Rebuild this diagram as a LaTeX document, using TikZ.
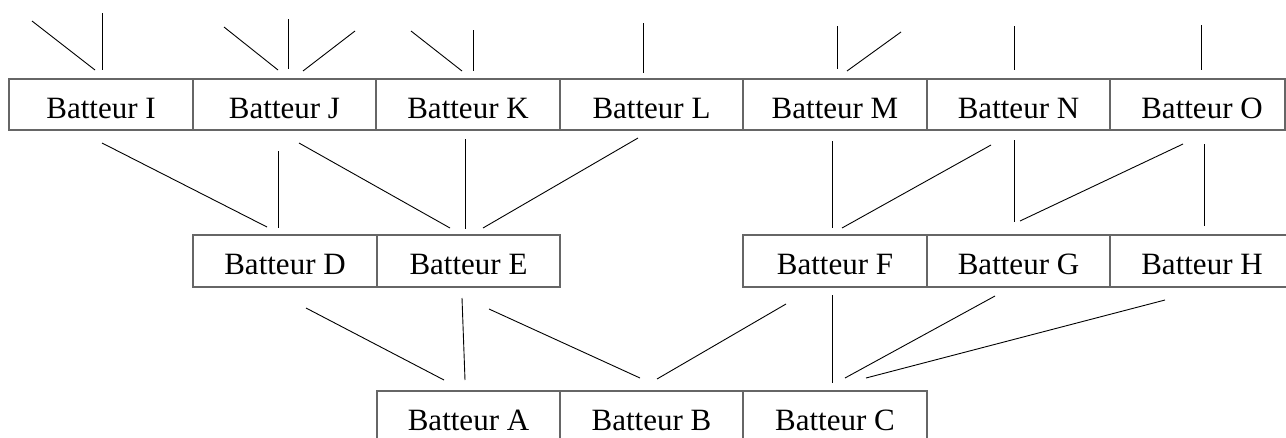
\documentclass[tikz,border=0pt]{standalone}
\usepackage{fontspec}
\setmainfont{Liberation Serif}
\usetikzlibrary{calc}
\begin{document}
\begin{tikzpicture}[x=1pt,y=-1pt,
  box/.style={draw=black!60, line width=1.3pt, rectangle, inner sep=0pt, outer sep=0pt,
    font=\fontsize{31pt}{37pt}\selectfont, text height=27pt, text depth=0pt},
  rowa/.style={box, minimum height=51pt},
  rowb/.style={box, minimum height=52pt},
  conn/.style={draw=black, line width=0.9pt}]
\useasboundingbox (0,0) rectangle (1286,437);
\clip (0,0) rectangle (1286,437);
% top row
\node[rowa, minimum width=184pt] (I) at (101,104.5) {Batteur I};
\node[rowa, minimum width=183pt] (J) at (284.5,104.5) {Batteur J};
\node[rowa, minimum width=184pt] (K) at (468,104.5) {Batteur K};
\node[rowa, minimum width=183pt] (L) at (651.5,104.5) {Batteur L};
\node[rowa, minimum width=184pt] (M) at (835,104.5) {Batteur M};
\node[rowa, minimum width=183pt] (N) at (1018.5,104.5) {Batteur N};
\node[rowa, minimum width=175pt] (O) at (1197.5,104.5) {\hspace*{9pt}Batteur O};
% middle row
\node[rowb, minimum width=184pt] (D) at (285,261) {Batteur D};
\node[rowb, minimum width=183pt] (E) at (468.5,261) {Batteur E};
\node[rowb, minimum width=184pt] (F) at (835,261) {Batteur F};
\node[rowb, minimum width=183pt] (G) at (1018.5,261) {Batteur G};
\node[rowb, minimum width=184pt] (H) at (1202,261) {Batteur H};
% bottom row
\node[rowb, minimum width=183pt] (A) at (468.5,417) {Batteur A};
\node[rowb, minimum width=183pt] (B) at (651.5,417) {Batteur B};
\node[rowb, minimum width=184pt] (C) at (835,417) {Batteur C};
% free ends above the top row
\coordinate (tI1) at (32,21);
\coordinate (tI2) at (102,13);
\coordinate (tJ1) at (224,27);
\coordinate (tJ2) at (288,19);
\coordinate (tJ3) at (355,31);
\coordinate (tK1) at (411,31);
\coordinate (tK2) at (473,30);
\coordinate (tL) at (643,23);
\coordinate (tM1) at (837,26);
\coordinate (tM2) at (901,32);
\coordinate (tN) at (1014,26);
\coordinate (tO) at (1201,25);
\draw[conn] (tI1) -- ($(I.north west)+(86,-9)$);
\draw[conn] (tI2) -- ($(I.north west)+(93,-9)$);
\draw[conn] (tJ1) -- ($(J.north west)+(85,-9)$);
\draw[conn] (tJ2) -- ($(J.north west)+(95,-10)$);
\draw[conn] (tJ3) -- ($(J.north west)+(110,-8)$);
\draw[conn] (tK1) -- ($(K.north west)+(86,-8)$);
\draw[conn] (tK2) -- ($(K.north west)+(97,-8)$);
\draw[conn] (tL) -- ($(L.north west)+(83,-6)$);
\draw[conn] (tM1) -- ($(M.north west)+(94,-10)$);
\draw[conn] (tM2) -- ($(M.north west)+(104,-8)$);
\draw[conn] (tN) -- ($(N.north west)+(87,-9)$);
\draw[conn] (tO) -- ($(O.north west)+(91,-9)$);
% top row to middle row
\draw[conn] ($(I.south west)+(93,13)$) -- ($(D.north west)+(74,-8)$);
\draw[conn] ($(J.south west)+(85,21)$) -- ($(D.north west)+(85,-7)$);
\draw[conn] ($(J.south west)+(106,13)$) -- ($(E.north west)+(73,-7)$);
\draw[conn] ($(K.south west)+(89,9)$) -- ($(E.north west)+(88,-6)$);
\draw[conn] ($(L.south west)+(78,8)$) -- ($(E.north west)+(106,-7)$);
\draw[conn] ($(M.south west)+(89,11)$) -- ($(F.north west)+(89,-7)$);
\draw[conn] ($(N.south west)+(64,15)$) -- ($(F.north west)+(99,-7)$);
\draw[conn] ($(N.south west)+(87,10)$) -- ($(G.north west)+(87,-13)$);
\draw[conn] ($(O.south west)+(73,14)$) -- ($(G.north west)+(93,-14)$);
\draw[conn] ($(O.south west)+(94,14)$) -- ($(H.north west)+(94,-9)$);
% middle row to bottom row
\draw[conn] ($(D.south west)+(113,21)$) -- ($(A.north west)+(67,-11)$);
\draw[conn] ($(E.south west)+(85,11)$) -- ($(A.north west)+(88,-11)$);
\draw[conn] ($(E.south west)+(112,22)$) -- ($(B.north west)+(80,-13)$);
\draw[conn] ($(F.south west)+(43,17)$) -- ($(B.north west)+(97,-12)$);
\draw[conn] ($(F.south west)+(89,8)$) -- ($(C.north west)+(89,-8)$);
\draw[conn] ($(G.south west)+(68,9)$) -- ($(C.north west)+(102,-13)$);
\draw[conn] ($(H.south west)+(55,13)$) -- ($(C.north west)+(123,-13)$);
\end{tikzpicture}
\end{document}
